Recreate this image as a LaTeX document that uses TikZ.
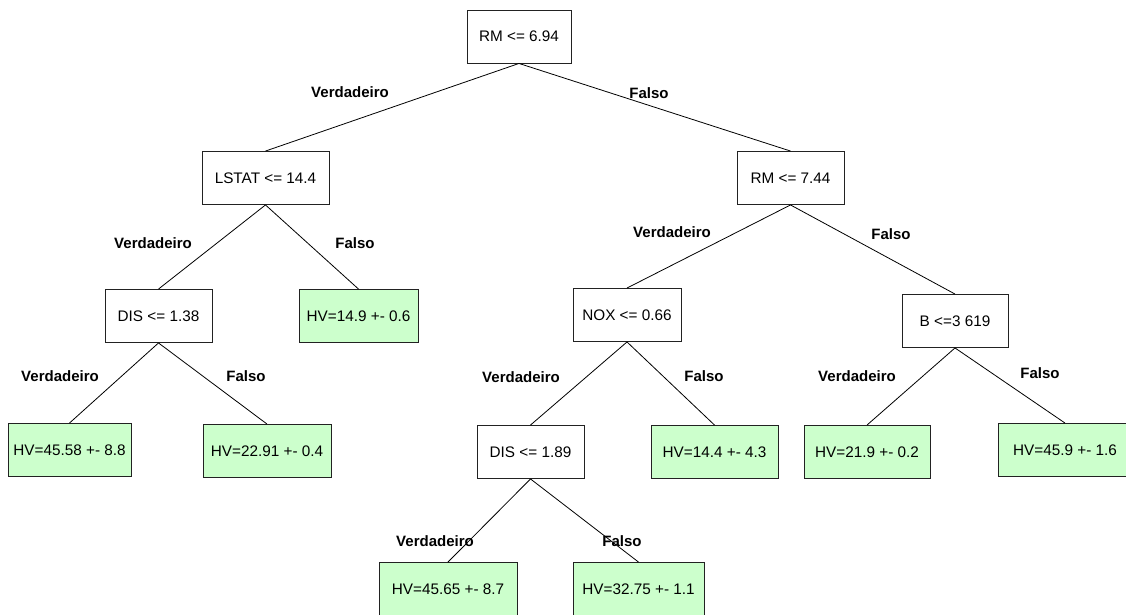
\documentclass[tikz,border=0pt]{standalone}
\usepackage{fontspec}
\setmainfont{Liberation Sans}
\definecolor{leafgreen}{HTML}{CCFFCC}
\definecolor{boxline}{HTML}{222222}
\begin{document}
\begin{tikzpicture}[x=1pt,y=1pt,
  every node/.style={font=\fontsize{15.3}{18}\selectfont},
  split/.style={draw=boxline, line width=0.9pt, fill=white, inner sep=0pt, minimum height=53pt},
  leaf/.style={split, fill=leafgreen},
  lab/.style={font=\fontsize{15}{18}\selectfont\bfseries},
  branch/.style={draw=black, line width=0.8pt}]
\useasboundingbox (0,0) rectangle (1126,614);
\clip (0,0) rectangle (1126,614);

% decision nodes
\node[split, minimum width=104pt] (root)  at (519,577.5) {RM <= 6.94};
\node[split, minimum width=127pt] (lstat) at (265.5,436) {LSTAT <= 14.4};
\node[split, minimum width=107pt] (rmb)   at (790.5,436) {RM <= 7.44};
\node[split, minimum width=107pt] (disa)  at (158.5,298) {DIS <= 1.38};
\node[split, minimum width=108pt] (nox)   at (627,299) {NOX <= 0.66};
\node[split, minimum width=106pt] (bb)    at (955,293) {B <=3 619};
\node[split, minimum width=107pt] (disb)  at (530.5,162) {DIS <= 1.89};

% leaves
\node[leaf, minimum width=119pt] (l149)  at (358.5,298) {HV=14.9 +- 0.6};
\node[leaf, minimum width=123pt] (l4558) at (69.5,164) {HV=45.58 +- 8.8};
\node[leaf, minimum width=128pt] (l2291) at (267,163) {HV=22.91 +- 0.4};
\node[leaf, minimum width=127pt] (l144)  at (714.5,162) {HV=14.4 +- 4.3};
\node[leaf, minimum width=126pt] (l219)  at (867,162) {HV=21.9 +- 0.2};
\node[leaf, minimum width=134pt] (l459)  at (1065,164) {HV=45.9 +- 1.6};
\node[leaf, minimum width=138pt] (l4565) at (448,25) {HV=45.65 +- 8.7};
\node[leaf, minimum width=131pt] (l3275) at (638.5,25) {HV=32.75 +- 1.1};

% branches
\draw[branch] (root.south) -- (lstat.north);
\draw[branch] (root.south) -- (rmb.north);
\draw[branch] (lstat.south) -- (disa.north);
\draw[branch] (lstat.south) -- (l149.north);
\draw[branch] (disa.south) -- (l4558.north);
\draw[branch] (disa.south) -- (l2291.north);
\draw[branch] (rmb.south) -- (nox.north);
\draw[branch] (rmb.south) -- (bb.north);
\draw[branch] (nox.south) -- (disb.north);
\draw[branch] (nox.south) -- (l144.north);
\draw[branch] (bb.south) -- (l219.north);
\draw[branch] (bb.south) -- (l459.north);
\draw[branch] (disb.south) -- (l4565.north);
\draw[branch] (disb.south) -- (l3275.north);

% branch labels
\node[lab] (t1)  at (350,522) {Verdadeiro};
\node[lab] (f1)  at (649,521) {Falso};
\node[lab] (t2)  at (153,371) {Verdadeiro};
\node[lab] (f2)  at (355,371) {Falso};
\node[lab] (t3)  at (60,238) {Verdadeiro};
\node[lab] (f3)  at (246,238) {Falso};
\node[lab] (t4)  at (672,382) {Verdadeiro};
\node[lab] (f4)  at (891,380) {Falso};
\node[lab] (t5)  at (521,237) {Verdadeiro};
\node[lab] (f5)  at (704,238) {Falso};
\node[lab] (t6)  at (857,238) {Verdadeiro};
\node[lab] (f6)  at (1040,241) {Falso};
\node[lab] (t7)  at (435,73) {Verdadeiro};
\node[lab] (f7)  at (622,73) {Falso};
\end{tikzpicture}
\end{document}
